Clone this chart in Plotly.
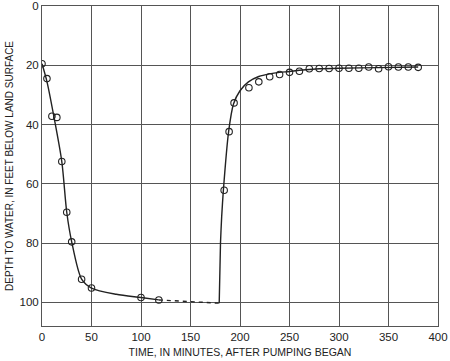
import plotly.graph_objects as go

# Observed data points (time in minutes, depth to water in feet)
obs_time = [0, 5, 10, 15, 20, 25, 30, 40, 50, 100, 118,
            184, 189, 194, 209, 219, 230, 240, 250, 260, 270, 280, 290,
            300, 310, 320, 330, 340, 350, 360, 370, 380]
obs_depth = [19.5, 24.5, 37.2, 37.6, 52.5, 69.6, 79.6, 92.2, 95.2, 98.4, 99.2,
             62.2, 42.4, 32.7, 27.6, 25.6, 23.9, 23.1, 22.4, 22.0, 21.2, 21.1, 21.1,
             21.0, 21.0, 21.0, 20.6, 21.2, 20.5, 20.6, 20.6, 20.7]

# Fitted curve - drawdown (solid)
draw_time = [0, 5, 12, 20, 25, 30, 40, 50, 75, 100, 118]
draw_depth = [19.5, 25.5, 37.3, 52.5, 69.6, 79.6, 92.2, 95.2, 97.3, 98.4, 99.2]

# Extrapolated (dashed)
dash_time = [118, 179]
dash_depth = [99.2, 100.3]

# Fitted curve - recovery (solid)
rec_time = [179, 180.3, 181.5, 183.2, 188.5, 193.5, 200, 208.5, 219, 230, 240, 250, 260, 280, 300, 340, 380]
rec_depth = [100.3, 80, 71, 62.2, 42.4, 33, 28.6, 25.6, 23.8, 22.9, 22.4, 22.1, 21.7, 21.2, 21.0, 20.8, 20.6]

x_ticks = [0, 50, 100, 150, 200, 250, 300, 350, 400]
y_ticks = [0, 20, 40, 60, 80, 100]

ink = "#222222"
fig = go.Figure()
fig.add_trace(go.Scatter(x=draw_time, y=draw_depth, mode="lines",
                         line=dict(color=ink, width=1.4, shape="spline", smoothing=0.8),
                         hoverinfo="skip"))
fig.add_trace(go.Scatter(x=dash_time, y=dash_depth, mode="lines",
                         line=dict(color=ink, width=1.4, dash="4px,4px")))
fig.add_trace(go.Scatter(x=rec_time, y=rec_depth, mode="lines",
                         line=dict(color=ink, width=1.4, shape="spline", smoothing=0.6)))
fig.add_trace(go.Scatter(x=obs_time, y=obs_depth, mode="markers",
                         marker=dict(symbol="circle-open", size=6.5, color=ink,
                                     line=dict(width=1.1, color=ink))))

fig.update_layout(
    width=450, height=361,
    margin=dict(l=42, r=12, t=6, b=35, autoexpand=False),
    paper_bgcolor="white", plot_bgcolor="white",
    showlegend=False,
    font=dict(family="Liberation Sans, Arial, sans-serif", color=ink, size=11),
)
fig.update_xaxes(range=[0, 400], tickvals=x_ticks, showgrid=True, automargin=False,
                 gridcolor="#555555", gridwidth=1, showline=True, linecolor="#555555",
                 linewidth=1, mirror=True, zeroline=False, ticks="",
                 tickfont=dict(size=11.5),
                 title=dict(text="TIME, IN MINUTES, AFTER PUMPING BEGAN",
                            font=dict(size=10.5), standoff=6))
fig.update_yaxes(range=[108, 0], tickvals=y_ticks, showgrid=True, automargin=False,
                 gridcolor="#555555", gridwidth=1, showline=True, linecolor="#555555",
                 linewidth=1, mirror=True, zeroline=False, ticks="",
                 tickfont=dict(size=11.5),
                 title=dict(text="DEPTH TO WATER, IN FEET BELOW LAND SURFACE",
                            font=dict(size=10), standoff=4))

fig.write_html("out.html", config={"displayModeBar": False},
               post_script="document.body.style.margin='0';")
